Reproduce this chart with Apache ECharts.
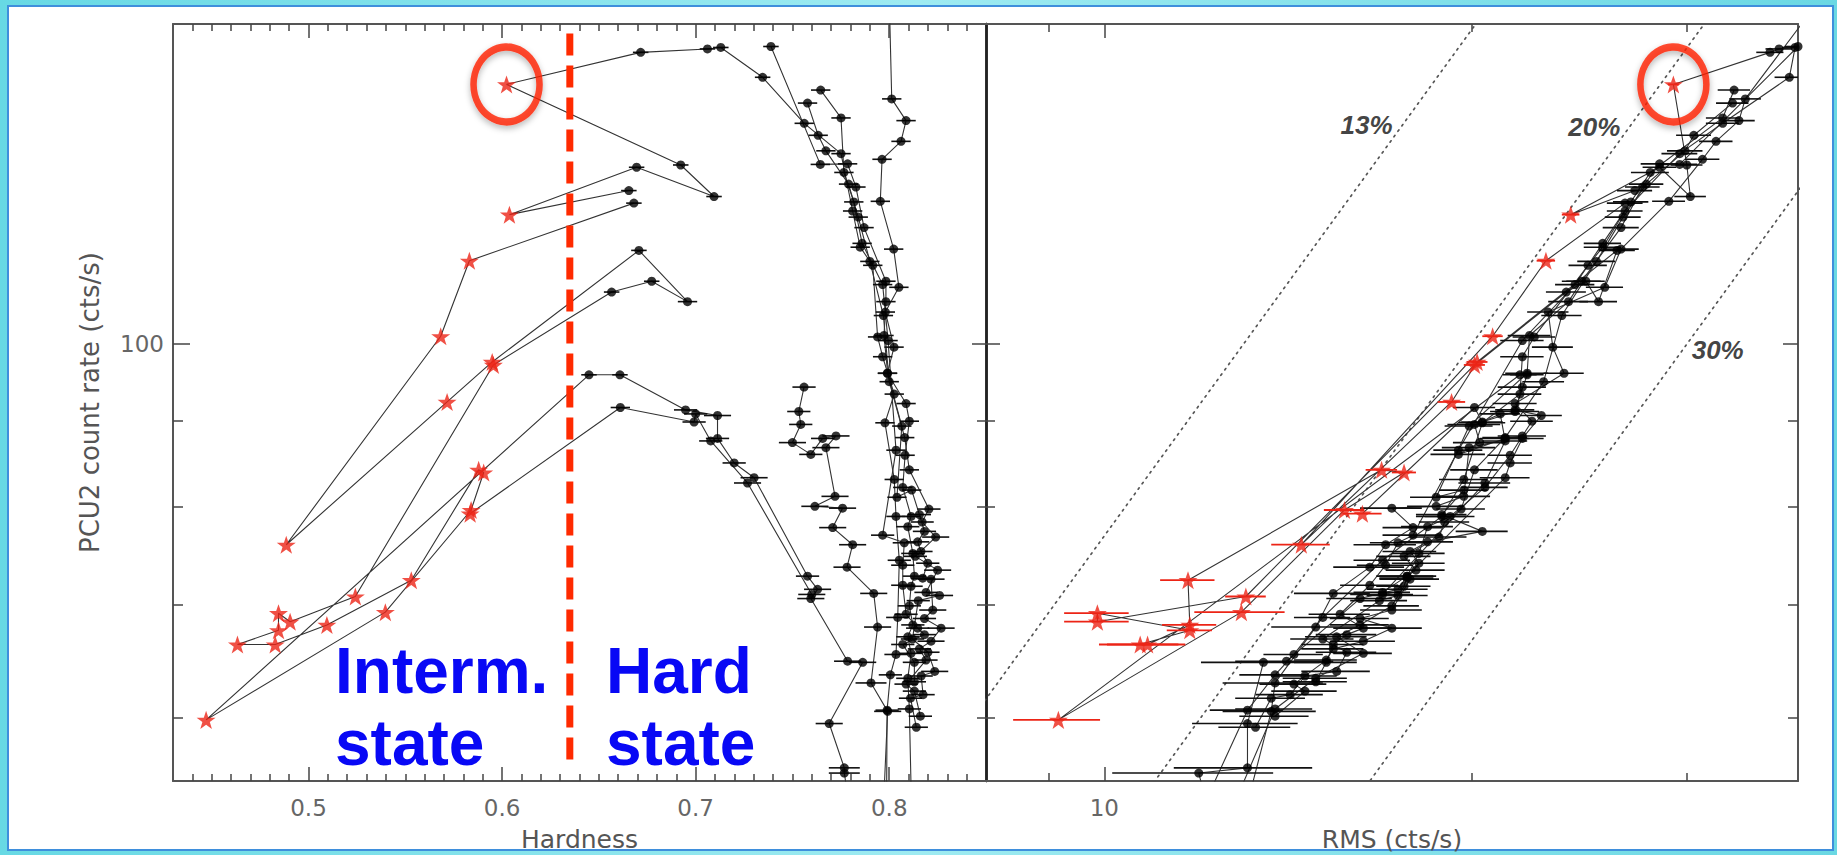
<!DOCTYPE html>
<html><head><meta charset="utf-8">
<script src="https://cdn.jsdelivr.net/npm/echarts@6/dist/echarts.min.js"></script>
<style>
html,body{margin:0;padding:0;width:1837px;height:855px;overflow:hidden;background:linear-gradient(90deg,#67d9e4,#9eebf1 50%,#6ad8e3);}
#frame{position:absolute;left:7px;top:5px;width:1827px;height:846px;background:#fff;border:2px solid #3f8fdc;box-sizing:border-box;}
#chart{position:absolute;left:0;top:0;width:1837px;height:855px;}
</style></head><body><div id="frame"></div><div id="chart"></div>
<script>
// ---------- axis ticks ----------
const hardMajorTicks = [0.5, 0.6, 0.7, 0.8];
const hardMinorTicks = [0.44,0.45,0.46,0.47,0.48,0.49,0.51,0.52,0.53,0.54,0.55,0.56,0.57,0.58,0.59,
  0.61,0.62,0.63,0.64,0.65,0.66,0.67,0.68,0.69,0.71,0.72,0.73,0.74,0.75,0.76,0.77,0.78,0.79,0.81,0.82,0.83,0.84];
const rmsMajorTicks = [10];
const rmsMinorTicks = [9, 20, 30];
const rateMajorTicks = [100];
const rateMinorTicks = [60, 70, 80, 90];
const hardRange = [0.43, 0.85];
const rateRange = [55, 155];
const rmsRange = [8, 37];

// constant fractional-rms lines (RMS = f * rate)
const fracLevels = [0.13, 0.20, 0.30];
const fracLabels = ['13%', '20%', '30%'];
const fracLabelAnchor = [[16.4, 134.9], [25.2, 134.6], [31.8, 99.2]];
const fracLineRms = [5, 60];

// boundary between intermediate and hard state
const boundaryHardness = 0.635;
const boundaryRate = [153, 55.9];

// observations: [hardness, rate, rms, hardnessErr, rmsErr, intermediate(1)/hard(0)]
const trackA = [
 [0.7985,50.0,11.6,0.006,1.2,0],[0.7989,60.6,13.1,0.006,0.9,0],[0.8006,63.6,13.8,0.006,0.9,0],
 [0.8035,65.4,14.3,0.006,0.8,0],[0.8044,68.8,15.1,0.006,0.8,0],[0.8052,74.4,16.9,0.006,0.9,0],
 [0.8035,79.0,18.9,0.005,0.9,0],[0.8026,83.1,19.7,0.005,0.9,0],[0.7978,89.8,20.4,0.005,0.9,0],
 [0.8026,93.4,21.9,0.005,0.9,0],[0.7966,98.3,22.0,0.005,0.9,0],[0.7940,101.0,22.5,0.005,0.9,0],
 [0.7915,111.4,24.9,0.005,0.9,0],[0.7850,114.2,25.6,0.005,0.9,0],[0.7811,120.0,26.7,0.005,0.9,0],
 [0.7751,129.8,29.6,0.005,1.0,0],[0.7561,135.3,32.1,0.005,1.0,0],[0.7346,144.1,36.4,0.004,1.0,0],
 [0.7130,150.1,36.8,0.004,0.9,0],[0.7061,149.8,35.7,0.004,0.9,0],[0.6716,149.1,35.1,0.004,0.9,0],
 [0.6023,142.7,29.25,0,0.3,1],[0.6923,127.8,30.0,0.004,0.9,0],[0.7095,122.4,30.2,0.004,0.9,0],
 [0.6695,127.4,28.5,0.004,0.9,0],[0.6038,119.4,24.1,0,0.4,1],[0.6655,123.4,27.2,0.004,0.9,0]
];
const trackB = [
 [0.7995,170.0,41.0,0.005,1.0,0],[0.8013,139.9,33.5,0.005,1.0,0],[0.8087,135.8,33.1,0.005,1.0,0],
 [0.8061,132.0,31.7,0.005,1.0,0],[0.7963,128.8,30.9,0.005,1.0,0],[0.7954,121.6,29.0,0.005,0.9,0],
 [0.8023,113.9,26.5,0.005,0.9,0],[0.8050,108.1,25.7,0.005,0.9,0],[0.7980,104.5,23.1,0.005,0.9,0],
 [0.8025,99.6,23.3,0.005,0.9,0],[0.7990,96.1,23.8,0.005,0.9,0],[0.8087,92.2,21.7,0.005,0.9,0],
 [0.8104,90.0,22.4,0.005,0.9,0],[0.8082,85.9,21.5,0.005,0.9,0],[0.8070,82.2,20.5,0.005,0.9,0],
 [0.8113,79.0,19.2,0.005,0.9,0],[0.8096,77.9,18.4,0.006,0.9,0],[0.8122,75.1,18.1,0.006,0.9,0],
 [0.8130,72.8,17.7,0.006,0.9,0],[0.8113,71.8,17.6,0.006,0.9,0],[0.8104,69.9,17.2,0.006,0.9,0],
 [0.8122,68.1,16.2,0.006,0.9,0],[0.8096,67.0,15.5,0.006,0.9,0],[0.8113,65.5,16.3,0.006,0.9,0],
 [0.8096,63.3,14.9,0.006,0.9,0],[0.8104,60.7,13.8,0.006,1.0,0],[0.8120,50.0,12.3,0.006,1.0,0]
];
const trackC = [
 [0.8161,60.1,13.8,0.006,0.9,0],[0.8130,62.2,14.6,0.006,0.9,0],[0.8087,62.8,14.3,0.006,0.9,0],
 [0.8190,64.9,15.2,0.006,0.9,0],[0.8156,65.9,15.4,0.006,0.9,0],[0.8216,66.6,16.3,0.007,1.0,0],
 [0.8268,67.8,17.2,0.007,1.0,0],[0.8182,68.7,16.2,0.006,0.9,0],[0.8225,69.5,17.2,0.007,1.0,0],
 [0.8216,72.5,17.8,0.007,1.0,0],[0.8173,72.6,17.7,0.006,0.9,0],[0.8199,74.1,18.1,0.006,0.9,0],
 [0.8164,75.3,17.8,0.006,0.9,0],[0.8147,76.3,18.4,0.006,0.9,0],[0.8182,77.4,20.4,0.006,1.0,0],
 [0.8156,79.2,18.9,0.006,0.9,0],[0.8116,81.9,19.7,0.005,0.9,0],[0.8040,81.1,18.7,0.005,0.9,0],
 [0.8065,89.4,19.9,0.005,0.9,0],[0.7992,96.1,22.2,0.005,0.9,0],[0.7973,101.2,22.3,0.005,0.9,0],
 [0.7983,106.0,24.0,0.005,0.9,0],[0.7983,109.0,24.6,0.005,0.9,0],[0.7870,117.3,26.5,0.005,0.9,0],
 [0.7828,124.0,27.6,0.005,0.9,0],[0.7785,128.0,28.5,0.005,1.0,0],[0.7644,127.9,29.6,0.005,1.0,0],
 [0.7389,150.3,37.0,0.004,0.9,0]
];
const trackD = [
 [0.8130,63.0,14.9,0.006,0.9,0],[0.8130,64.7,15.2,0.006,0.9,0],[0.8070,66.3,15.4,0.006,0.9,0],
 [0.8182,67.2,15.8,0.006,0.9,0],[0.8147,67.8,16.3,0.006,0.9,0],[0.8087,69.1,15.6,0.006,0.9,0],
 [0.8070,71.9,16.5,0.006,0.9,0],[0.8070,73.9,17.0,0.006,0.9,0],[0.8078,76.2,17.4,0.006,0.9,0],
 [0.7966,77.0,17.9,0.006,1.0,0],[0.8035,86.5,19.5,0.005,0.9,0],[0.7994,100.5,22.0,0.005,0.9,0],
 [0.7966,108.5,24.3,0.005,0.9,0],[0.7860,114.8,25.6,0.005,0.9,0],[0.7817,121.5,27.0,0.005,0.9,0],
 [0.7766,126.5,28.0,0.005,1.0,0],[0.7751,136.3,32.1,0.005,1.0,0],[0.7646,141.6,32.8,0.005,1.0,0]
];
const trackE = [
 [0.8140,59.2,13.3,0.006,0.9,0],[0.8110,61.6,13.7,0.006,0.9,0],[0.8175,61.9,14.2,0.006,0.9,0],
 [0.8165,63.5,14.6,0.006,0.9,0],[0.8235,63.9,15.5,0.007,1.0,0],[0.8200,65.6,15.8,0.006,0.9,0],
 [0.8120,66.8,15.1,0.006,0.9,0],[0.8150,70.4,16.8,0.006,0.9,0],[0.8260,70.9,17.4,0.007,1.0,0],
 [0.8190,71.2,16.9,0.006,0.9,0],[0.8250,73.4,18.0,0.007,1.0,0],[0.8135,74.8,17.6,0.006,0.9,0],
 [0.8240,76.8,18.8,0.007,1.0,0],[0.8170,78.4,19.0,0.006,0.9,0],[0.8205,79.8,19.6,0.006,0.9,0],
 [0.8104,84.2,20.1,0.005,0.9,0],[0.8080,88.0,21.3,0.005,0.9,0],[0.8000,95.0,22.9,0.005,0.9,0],
 [0.7970,104.0,23.7,0.005,0.9,0],[0.7900,112.0,25.3,0.005,0.9,0],[0.7840,119.0,26.6,0.005,0.9,0],
 [0.7790,124.5,27.8,0.005,0.9,0],[0.7673,130.3,29.9,0.005,1.0,0],[0.7633,133.1,30.4,0.005,1.0,0],
 [0.7578,139.1,32.7,0.005,1.0,0]
];
const trackH = [
 [0.7560,94.3,22.0,0.006,1.0,0],[0.7533,91.2,21.7,0.006,1.0,0],[0.7543,89.6,20.1,0.006,1.0,0],
 [0.7500,87.4,20.3,0.007,1.0,0],[0.7595,86.0,19.5,0.006,1.0,0],[0.7656,87.9,21.3,0.006,1.0,0],
 [0.7725,88.2,22.0,0.007,1.0,0],[0.7673,86.8,19.9,0.007,1.0,0],[0.7720,81.2,19.7,0.007,1.0,0],
 [0.7616,80.1,18.7,0.007,1.0,0],[0.7759,79.9,17.2,0.007,1.0,0],[0.7708,77.8,17.9,0.007,1.0,0],
 [0.7811,76.0,17.0,0.007,1.0,0],[0.7782,73.7,16.5,0.007,1.1,0],[0.7920,71.1,15.4,0.007,1.1,0],
 [0.7940,67.9,14.9,0.007,1.2,0],[0.7906,62.9,13.8,0.008,1.3,0],[0.7992,60.5,13.7,0.007,1.2,0],
 [0.7960,50.0,12.8,0.007,1.4,0]
];
const trackI = [
 [0.6681,121.3,26.7,0.004,0.9,0],[0.5831,112.1,23.0,0,0.4,1],[0.5683,101.1,20.8,0,0.4,1],
 [0.4885,76.0,14.5,0,0.8,1],[0.5716,92.4,19.25,0,0.5,1],[0.5949,97.6,20.2,0,0.4,1],
 [0.6707,113.7,26.3,0.004,0.9,0],[0.6958,106.0,25.4,0.005,0.9,0],[0.6773,109.0,24.8,0.004,0.9,0],
 [0.6566,107.4,23.9,0.004,0.9,0],[0.5955,97.2,20.1,0,0.4,1],[0.5242,70.8,13.06,0,0.5,1],
 [0.4905,68.4,9.87,0,0.6,1],[0.4845,69.2,9.87,0,0.6,1],[0.4845,67.6,11.75,0,0.5,1],
 [0.4633,66.3,10.7,0,0.8,1],[0.4828,66.3,10.85,0,0.8,1],[0.5095,68.1,11.75,0,0.6,1],
 [0.5531,72.4,11.71,0,0.6,1],[0.5879,84.2,16.87,0,0.5,1],[0.5905,83.9,17.6,0,0.4,1],
 [0.5840,79.7,15.73,0,0.6,1],[0.5397,69.3,12.95,0,1.1,1],[0.4471,59.8,9.17,0,0.75,1],
 [0.6449,95.9,21.9,0.004,0.7,0],[0.6609,95.9,22.2,0.004,0.7,0],[0.6948,91.4,21.7,0.006,0.8,0],
 [0.7113,90.7,22.8,0.007,0.9,0],[0.7113,87.9,22.0,0.006,0.9,0],[0.7199,85.0,21.5,0.006,0.9,0],
 [0.7302,83.3,21.3,0.007,1.0,0],[0.7578,72.8,17.7,0.006,1.0,0],[0.7630,71.5,17.4,0.007,1.0,0],
 [0.7595,70.6,16.2,0.007,1.0,0],[0.7785,64.8,14.1,0.007,1.3,0],[0.7863,64.7,13.5,0.007,1.5,0],
 [0.7690,59.5,13.1,0.007,1.3,0],[0.7768,56.0,13.1,0.008,1.7,0],[0.7768,55.6,11.95,0.008,1.8,0],
 [0.7830,50.0,12.4,0.008,1.8,0]
];
const trackG = [
 [0.5835,79.3,16.27,0,0.6,1],[0.6611,91.7,20.1,0.005,0.8,0],[0.6992,89.9,20.4,0.006,0.8,0],
 [0.7000,90.9,21.1,0.006,0.8,0],[0.7078,87.6,21.3,0.006,0.9,0],[0.7268,82.7,20.5,0.007,1.0,0],
 [0.7600,71.0,16.9,0.007,1.0,0]
];

const tracks = [trackA, trackB, trackC, trackD, trackE, trackH, trackI, trackG];
const allObs = [].concat(...tracks);
const circledObs = trackA.find(p => p[5] === 1);

// ---------- styling helpers ----------
const FONT = 'DejaVu Sans';
const AX = '#555';
function mkAxis(grid, type, range, pos, ticks, len, extra) {
  const a = {
    type: type, gridIndex: grid, min: range[0], max: range[1], position: pos,
    axisLine: {show: false, onZero: false},
    axisTick: {show: true, inside: true, length: len, customValues: ticks, lineStyle: {color: '#444', width: 1.5}},
    axisLabel: {show: false},
    splitLine: {show: false}, minorTick: {show: false}, minorSplitLine: {show: false}
  };
  if (type === 'log') a.logBase = 10;
  return Object.assign(a, extra || {});
}
const lineOn = (c, w) => ({show: true, onZero: false, lineStyle: {color: c, width: w}});
const lbl = (vals, fmt, margin) => ({show: true, customValues: vals, formatter: fmt, color: '#666', fontSize: 23, fontFamily: FONT, margin: margin});
const nameStyle = {fontSize: 25, color: '#555', fontFamily: FONT};

const xAxes = [
  // grid 0 (hardness)
  mkAxis(0, 'value', hardRange, 'bottom', hardMajorTicks, 14, {axisLine: lineOn(AX, 2), axisLabel: lbl(hardMajorTicks, v => Number(v).toFixed(1), 15), name: 'Hardness', nameLocation: 'middle', nameGap: 46, nameTextStyle: nameStyle}),
  mkAxis(0, 'value', hardRange, 'bottom', hardMinorTicks, 7),
  mkAxis(0, 'value', hardRange, 'top', hardMajorTicks, 14, {axisLine: lineOn(AX, 2)}),
  mkAxis(0, 'value', hardRange, 'top', hardMinorTicks, 7),
  // grid 1 (rms)
  mkAxis(1, 'log', rmsRange, 'bottom', rmsMajorTicks, 14, {axisLine: lineOn(AX, 2), axisLabel: lbl(rmsMajorTicks, v => String(Math.round(v)), 15), name: 'RMS (cts/s)', nameLocation: 'middle', nameGap: 46, nameTextStyle: nameStyle}),
  mkAxis(1, 'log', rmsRange, 'bottom', rmsMinorTicks, 8),
  mkAxis(1, 'log', rmsRange, 'top', rmsMajorTicks, 14, {axisLine: lineOn(AX, 2)}),
  mkAxis(1, 'log', rmsRange, 'top', rmsMinorTicks, 8)
];
const yAxes = [
  mkAxis(0, 'log', rateRange, 'left', rateMajorTicks, 17, {axisLine: lineOn(AX, 2), axisLabel: lbl(rateMajorTicks, v => String(Math.round(v)), 9), name: 'PCU2 count rate (cts/s)', nameLocation: 'middle', nameGap: 70, nameRotate: 90, nameTextStyle: Object.assign({}, nameStyle, {fontSize: 26})}),
  mkAxis(0, 'log', rateRange, 'left', rateMinorTicks, 10),
  mkAxis(0, 'log', rateRange, 'right', rateMajorTicks, 14, {axisLine: lineOn('#222', 2.5)}),
  mkAxis(0, 'log', rateRange, 'right', rateMinorTicks, 9),
  mkAxis(1, 'log', rateRange, 'left', rateMajorTicks, 14, {axisLine: lineOn('#222', 2.5)}),
  mkAxis(1, 'log', rateRange, 'left', rateMinorTicks, 9),
  mkAxis(1, 'log', rateRange, 'right', rateMajorTicks, 15, {axisLine: lineOn(AX, 2)}),
  mkAxis(1, 'log', rateRange, 'right', rateMinorTicks, 10)
];

const STAR = 'path://M50,0 L61.8,35.1 L98.1,35.1 L68.8,56.7 L79.4,91.3 L50,70 L20.6,91.3 L31.2,56.7 L1.9,35.1 L38.2,35.1 Z';
const RED = '#ec2416';

function errBars(color, width) {
  return function (params, api) {
    const x = api.value(0), y = api.value(1), e = api.value(2);
    const p1 = api.coord([x - e, y]);
    const p2 = api.coord([x + e, y]);
    return {type: 'line', shape: {x1: p1[0], y1: p1[1], x2: p2[0], y2: p2[1]}, style: {stroke: color, lineWidth: width}};
  };
}

const series = [];
// fractional rms reference lines
fracLevels.forEach(f => {
  series.push({type: 'line', xAxisIndex: 4, yAxisIndex: 4, data: fracLineRms.map(r => [r, r / f]),
    symbol: 'none', silent: true, z: 1, clip: true,
    lineStyle: {color: '#555', width: 1.7, type: [1.7, 5], cap: 'round'}});
});
series.push({type: 'scatter', xAxisIndex: 4, yAxisIndex: 4, symbolSize: 0, silent: true, z: 6,
  data: fracLabelAnchor.map((p, i) => ({value: p, label: {formatter: fracLabels[i]}})),
  label: {show: true, position: 'inside', color: '#111', fontSize: 26, fontWeight: 'bold', fontStyle: 'italic', fontFamily: "'Liberation Sans Narrow', 'Liberation Sans'"}});

// time-ordered connecting lines
tracks.forEach(t => {
  series.push({type: 'line', xAxisIndex: 0, yAxisIndex: 0, data: t.map(p => [p[0], p[1]]), symbol: 'none',
    silent: true, z: 2, clip: true, lineStyle: {color: '#333', width: 1.1}});
  series.push({type: 'line', xAxisIndex: 4, yAxisIndex: 4, data: t.map(p => [p[2], p[1]]), symbol: 'none',
    silent: true, z: 2, clip: true, lineStyle: {color: '#333', width: 1.1}});
});

// error bars
const hardObs = allObs.filter(p => p[5] === 0);
const intObs = allObs.filter(p => p[5] === 1);
series.push({type: 'custom', xAxisIndex: 0, yAxisIndex: 0, clip: true, silent: true, z: 3,
  renderItem: errBars('#111', 1.6), data: hardObs.filter(p => p[3] > 0).map(p => [p[0], p[1], p[3]])});
series.push({type: 'custom', xAxisIndex: 4, yAxisIndex: 4, clip: true, silent: true, z: 3,
  renderItem: errBars('#111', 1.6), data: hardObs.map(p => [p[2], p[1], p[4]])});
series.push({type: 'custom', xAxisIndex: 4, yAxisIndex: 4, clip: true, silent: true, z: 3,
  renderItem: errBars(RED, 1.8), data: intObs.map(p => [p[2], p[1], p[4]])});

// points
series.push({type: 'scatter', xAxisIndex: 0, yAxisIndex: 0, clip: true, silent: true, z: 4, symbol: 'circle', symbolSize: 9,
  itemStyle: {color: '#000'}, data: hardObs.map(p => [p[0], p[1]])});
series.push({type: 'scatter', xAxisIndex: 4, yAxisIndex: 4, clip: true, silent: true, z: 4, symbol: 'circle', symbolSize: 9,
  itemStyle: {color: '#000'}, data: hardObs.map(p => [p[2], p[1]])});
series.push({type: 'scatter', xAxisIndex: 0, yAxisIndex: 0, clip: true, silent: true, z: 5, symbol: STAR, symbolSize: 19,
  symbolKeepAspect: true, itemStyle: {color: RED}, data: intObs.map(p => [p[0], p[1]])});
series.push({type: 'scatter', xAxisIndex: 4, yAxisIndex: 4, clip: true, silent: true, z: 5, symbol: STAR, symbolSize: 19,
  symbolKeepAspect: true, itemStyle: {color: RED}, data: intObs.map(p => [p[2], p[1]])});

// state boundary
series.push({type: 'line', xAxisIndex: 0, yAxisIndex: 0, symbol: 'none', silent: true, z: 6,
  data: boundaryRate.map(r => [boundaryHardness, r]),
  lineStyle: {color: '#ff2a00', width: 7, type: [22, 10], cap: 'butt'}});

// highlight rings around the first intermediate-state observation
const ring = {type: 'scatter', silent: true, z: 7, symbol: 'circle', symbolSize: [66, 75], clip: false,
  itemStyle: {color: 'rgba(0,0,0,0)', borderColor: '#ff2200', borderWidth: 7, shadowBlur: 6, shadowColor: 'rgba(0,0,0,0.35)', shadowOffsetY: 3}};
series.push(Object.assign({}, ring, {xAxisIndex: 0, yAxisIndex: 0, data: [[circledObs[0], circledObs[1]]]}));
series.push(Object.assign({}, ring, {xAxisIndex: 4, yAxisIndex: 4, data: [[circledObs[2], circledObs[1]]]}));

const chart = echarts.init(document.getElementById('chart'), null, {renderer: 'svg'});
chart.setOption({
  animation: false,
  backgroundColor: 'transparent',
  grid: [
    {left: 173, top: 24, width: 813, height: 757, outerBoundsMode: 'none', containLabel: false},
    {left: 986, top: 24, width: 812, height: 757, outerBoundsMode: 'none', containLabel: false}
  ],
  xAxis: xAxes,
  yAxis: yAxes,
  series: series,
  graphic: [
    {type: 'text', left: 335, top: 635, z: 100, style: {text: 'Interm.\nstate', font: 'bold 64px "Liberation Sans"', fill: '#0808f5', lineHeight: 72}},
    {type: 'text', left: 606, top: 635, z: 100, style: {text: 'Hard\nstate', font: 'bold 64px "Liberation Sans"', fill: '#0808f5', lineHeight: 72}}
  ]
});
</script></body></html>
